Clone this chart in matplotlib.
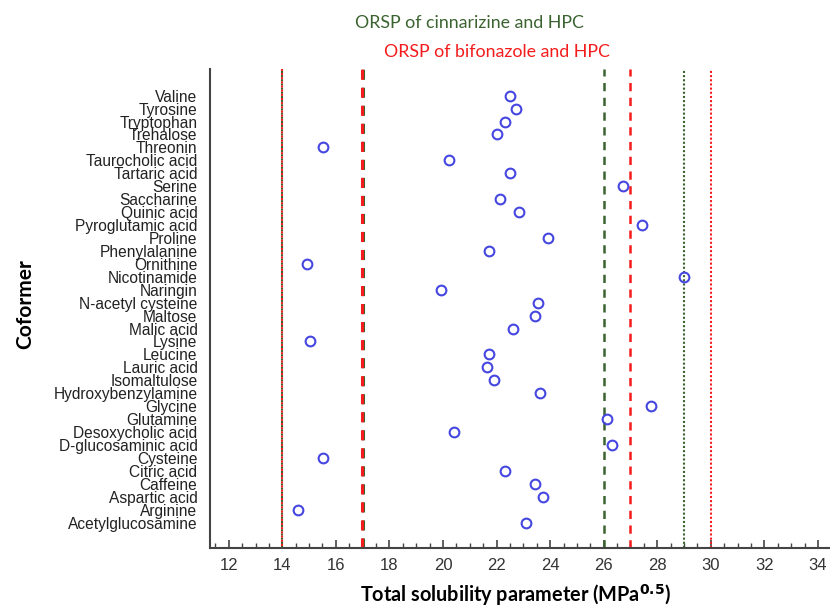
import matplotlib.pyplot as plt
import matplotlib.transforms as mtransforms
from matplotlib.ticker import MultipleLocator

# --- DADOS ---
coformers = ["Valine", "Tyrosine", "Tryptophan", "Trehalose", "Threonin",
             "Taurocholic acid", "Tartaric acid", "Serine", "Saccharine",
             "Quinic acid", "Pyroglutamic acid", "Proline", "Phenylalanine",
             "Ornithine", "Nicotinamide", "Naringin", "N-acetyl cysteine",
             "Maltose", "Malic acid", "Lysine", "Leucine", "Lauric acid",
             "Isomaltulose", "Hydroxybenzylamine", "Glycine", "Glutamine",
             "Desoxycholic acid", "D-glucosaminic acid", "Cysteine",
             "Citric acid", "Caffeine", "Aspartic acid", "Arginine",
             "Acetylglucosamine"]
solubility = [22.51, 22.74, 22.33, 22.02, 15.51,
              20.22, 22.52, 26.73, 22.13,
              22.83, 27.44, 23.91, 21.72,
              14.93, 29.0, 19.92, 23.53,
              23.44, 22.62, 15.02, 21.72, 21.64,
              21.92, 23.64, 27.75, 26.14,
              20.42, 26.32, 15.51,
              22.33, 23.44, 23.73, 14.60,
              23.11]

# ORSP limits (low/high) for each drug with HPC
cinn_inner = [17, 26]
cinn_outer = [14, 29]
bifo_inner = [17, 27]
bifo_outer = [14, 30]

verde = '#3b6330'
vermelho = '#f41c1c'
azul = '#4646e0'

plt.rcParams['font.family'] = ['Liberation Sans', 'DejaVu Sans']

fig = plt.figure(figsize=(8.3, 6.08), dpi=100)
ax = fig.add_axes([0.253, 0.0987, 0.747, 0.7878])

n = len(coformers)
ypos = list(range(n - 1, -1, -1))


def deslocar(linha, dx):
    # desloca a linha alguns pontos na horizontal (para as linhas sobrepostas)
    linha.set_transform(mtransforms.offset_copy(linha.get_transform(), fig=fig,
                                                x=dx, y=0, units='points'))


# linhas verticais
tracejado = (0, (3.3, 2.6))
for x in cinn_inner:
    ln = ax.axvline(x, color=verde, lw=1.8 if x != 17 else 2.2, ls=tracejado)
    if x in bifo_inner:
        deslocar(ln, 0.6)
for x in bifo_inner:
    ln = ax.axvline(x, color=vermelho, lw=1.8 if x != 17 else 2.2, ls=tracejado)
    if x in cinn_inner:
        deslocar(ln, -0.5)
for x in cinn_outer:
    ax.axvline(x, color=verde, lw=1.5, ls=(0, (1, 1)))
for x in bifo_outer:
    ax.axvline(x, color=vermelho, lw=1.5, ls=(1, (1, 1)) if x in cinn_outer else (0, (1, 1)))

ax.plot(solubility, ypos, 'o', mfc='none', mec=azul, mew=1.5, ms=7, ls='none', zorder=5)

ax.set_xlim(11.3, 34.45)
ax.set_ylim(-1.96, 35.06)
ax.set_yticks(ypos)
ax.set_yticklabels(coformers, fontsize=11.2, color='#222222')
ax.tick_params(axis='y', length=0, pad=9)

ax.xaxis.set_major_locator(MultipleLocator(2))
ax.xaxis.set_minor_locator(MultipleLocator(0.5))
ax.tick_params(axis='x', which='major', direction='in', length=6, width=1.2,
               color='#444444', labelsize=12, labelcolor='#333333', pad=7)
ax.tick_params(axis='x', which='minor', direction='in', length=3.5, width=1.0, color='#444444')

for lado in ['top', 'right']:
    ax.spines[lado].set_visible(False)
for lado in ['left', 'bottom']:
    ax.spines[lado].set_color('#444444')
    ax.spines[lado].set_linewidth(1.5)

ax.set_xlabel('Total solubility parameter (MPa$^{\\mathbf{0.5}}$)', fontsize=14.3,
              fontweight='bold', family='Lato', va='center')
ax.xaxis.set_label_coords(516 / 830, 1 - 595 / 608, transform=fig.transFigure)
ax.set_ylabel('Coformer', fontsize=15, fontweight='bold', family='Lato', va='center')
ax.yaxis.set_label_coords(25 / 830, 0.5, transform=fig.transFigure)

fig.text(469 / 830, 1 - 23 / 608, 'ORSP of cinnarizine and HPC', color=verde,
         fontsize=12.8, family='Lato', ha='center', va='center')
fig.text(497 / 830, 1 - 52 / 608, 'ORSP of bifonazole and HPC', color=vermelho,
         fontsize=12.8, family='Lato', ha='center', va='center')

fig.savefig('out.png', dpi=100)
